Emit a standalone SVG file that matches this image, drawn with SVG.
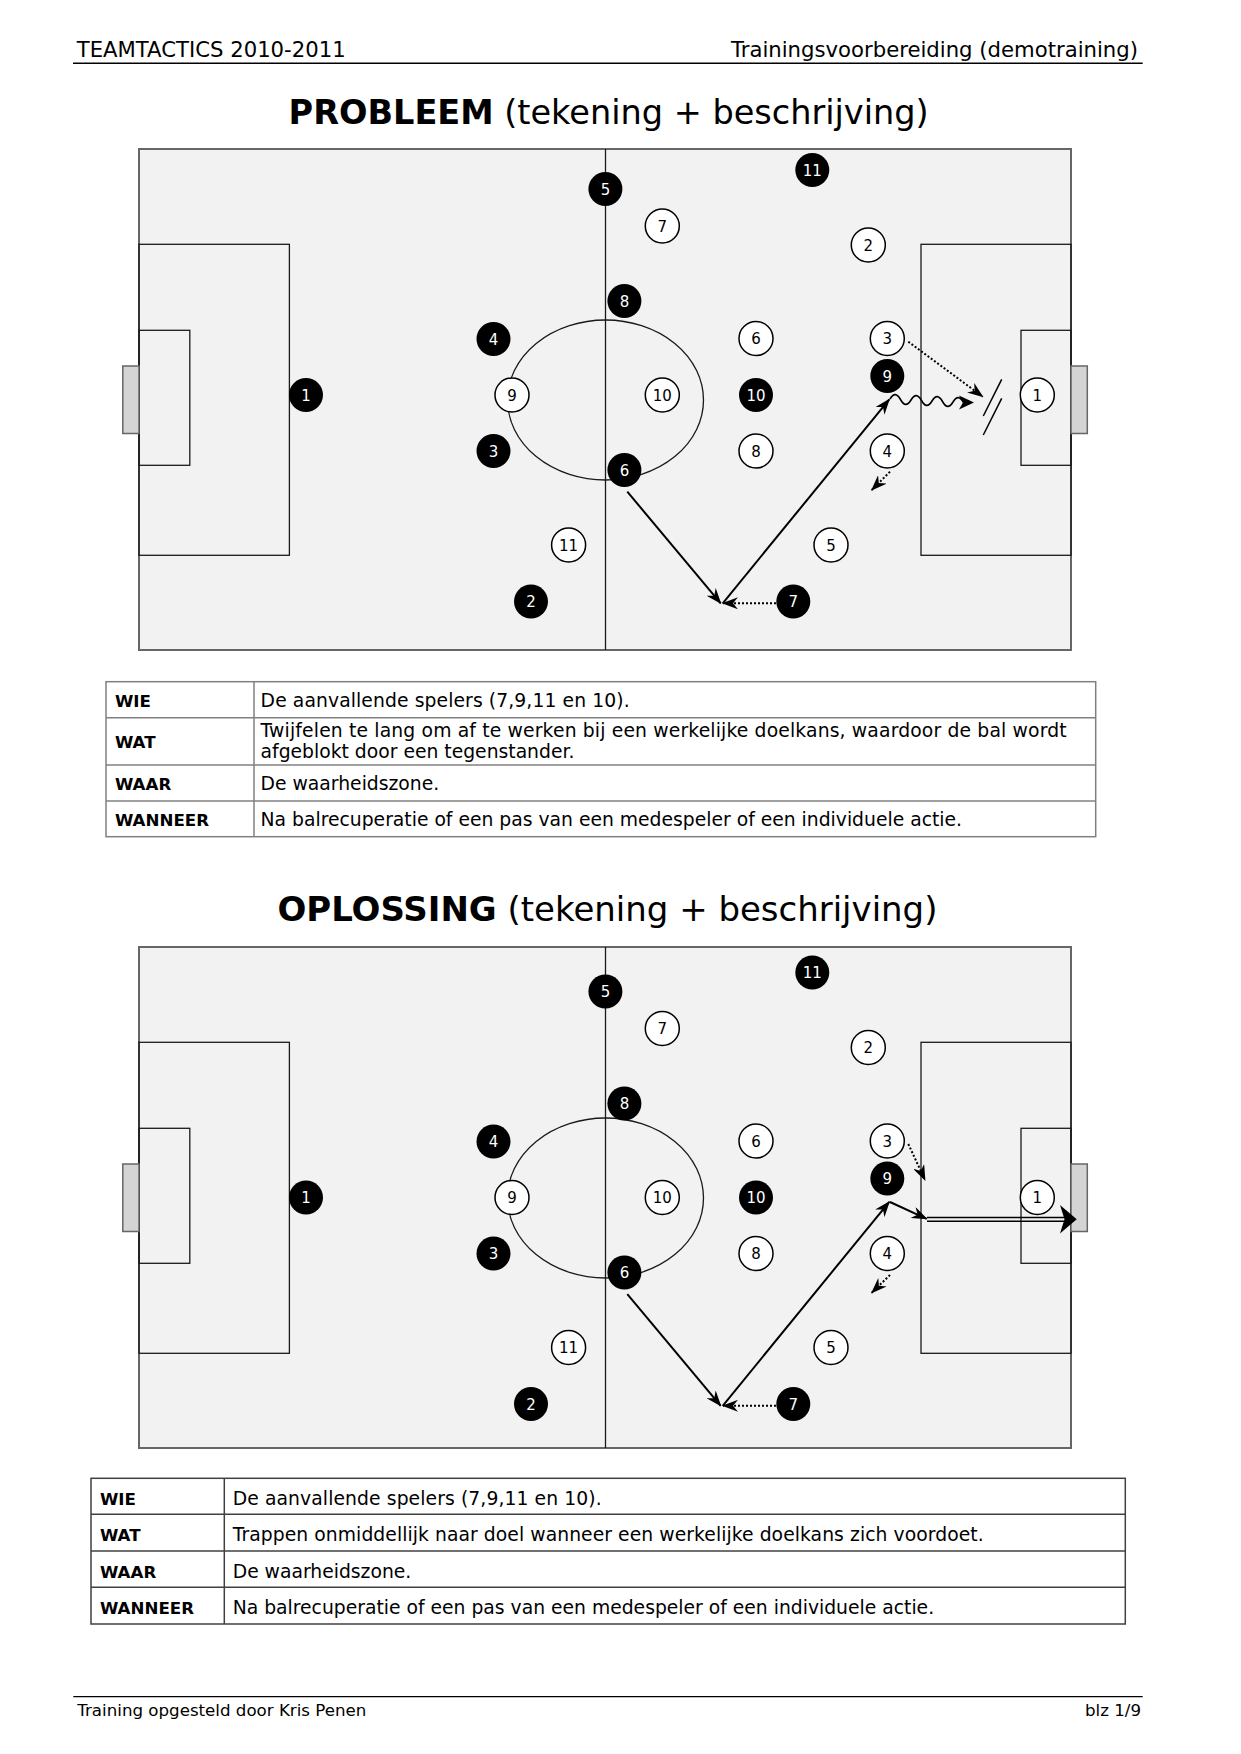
<svg xmlns="http://www.w3.org/2000/svg" width="1241" height="1754" viewBox="0 0 1241 1754">
<style>
text{font-family:"DejaVu Sans",Verdana,sans-serif}
.hdr{font-size:21.2px;fill:#000}
.ttl{font-size:33.5px;fill:#000}
.ttl .b{font-weight:bold}
.cell{font-size:18.75px;fill:#000}
.lab{font-size:16.67px;font-weight:bold;fill:#000}
.ftr{font-size:16.67px;fill:#000}
.pitch{fill:#f2f2f2;stroke:#666;stroke-width:2}
.ln{fill:none;stroke:#1a1a1a;stroke-width:1.3}
.goal{fill:#d4d4d4;stroke:#666;stroke-width:1.5}
.pa circle{fill:#000}
.pa text{fill:#fff}
.pb circle{fill:#fff;stroke:#000;stroke-width:1.5}
.pb text{fill:#000}
.num{font-size:15px;text-anchor:middle}
.pass{fill:none;stroke:#000;stroke-width:2;marker-end:url(#ah)}
.run{fill:none;stroke:#000;stroke-width:2;stroke-dasharray:2 2;marker-end:url(#ah)}
.tb1{fill:#fff;stroke:#808080;stroke-width:1.5}
.tb1l{stroke:#808080;stroke-width:1.5}
.tb2{fill:#fff;stroke:#404040;stroke-width:1.5}
.tb2l{stroke:#404040;stroke-width:1.5}
</style>
<defs>
<marker id="ah" viewBox="0 0 16 12" markerWidth="16" markerHeight="12" refX="15" refY="6" orient="auto" markerUnits="userSpaceOnUse">
<path d="M16,6 L0,0 L5,6 L0,12 Z" fill="#000"/>
</marker>
<g id="field">
<rect class="pitch" x="139" y="149" width="932" height="501"/>
<line class="ln" x1="605.5" y1="149" x2="605.5" y2="650"/>
<ellipse class="ln" cx="605.5" cy="400" rx="98" ry="80"/>
<rect class="ln" x="139" y="244.3" width="150.4" height="311"/>
<rect class="ln" x="139" y="330.3" width="50.8" height="135"/>
<rect class="goal" x="122.8" y="366" width="16.2" height="67.5"/>
<rect class="ln" x="921" y="244.3" width="150" height="311"/>
<rect class="ln" x="1021" y="330.3" width="50" height="135"/>
<rect class="goal" x="1071" y="366" width="16.3" height="67.5"/>
</g>
</defs>

<g id="header">
<text class="hdr" x="76.7" y="56.7">TEAMTACTICS 2010-2011</text>
<text class="hdr" x="1138" y="56.7" text-anchor="end">Trainingsvoorbereiding (demotraining)</text>
<line x1="73" y1="63.3" x2="1142.7" y2="63.3" stroke="#000" stroke-width="1.6"/>
</g>

<text class="ttl" x="288.6" y="124" textLength="640" lengthAdjust="spacingAndGlyphs"><tspan class="b">PROBLEEM</tspan> (tekening + beschrijving)</text>

<g id="pitch1">
<use href="#field"/>
</g>

<g id="connectors1">
<line class="pass" x1="627.3" y1="491.7" x2="720.7" y2="603.3"/>
<line class="run" x1="776" y1="603.3" x2="723" y2="603.3"/>
<line class="pass" x1="722.7" y1="603.3" x2="889.3" y2="399.3"/>
<path fill="none" stroke="#000" stroke-width="1.6" d="M890,399 q5.25,-9 10.5,0.5 t10.5,0.5 t10.5,0.5 t10.5,0.5 t10.5,0.5 t10.5,0.5 t10.5,0.5 l6,-1"/>
<path d="M974,402.5 L959,395.5 L963,402.5 L959,409.5 Z" fill="#000"/>
<line class="run" x1="908.3" y1="341.7" x2="982.7" y2="396.7"/>
<line x1="1001.7" y1="379.3" x2="983.3" y2="416" stroke="#000" stroke-width="1.5"/>
<line x1="1001.7" y1="398.3" x2="983.3" y2="435" stroke="#000" stroke-width="1.5"/>
<line class="run" x1="890" y1="471.7" x2="871.7" y2="490"/>
</g>

<g id="players1">
<g id="p1-a5" class="pa"><circle cx="605.4" cy="189" r="17"/><text class="num" x="605.4" y="194.5">5</text></g>
<g id="p1-a8" class="pa"><circle cx="624.4" cy="301" r="17"/><text class="num" x="624.4" y="306.5">8</text></g>
<g id="p1-a4" class="pa"><circle cx="493.5" cy="339" r="17"/><text class="num" x="493.5" y="344.5">4</text></g>
<g id="p1-a1" class="pa"><circle cx="306" cy="395" r="17"/><text class="num" x="306" y="400.5">1</text></g>
<g id="p1-a3" class="pa"><circle cx="493.5" cy="451" r="17"/><text class="num" x="493.5" y="456.5">3</text></g>
<g id="p1-a6" class="pa"><circle cx="624.4" cy="470" r="17"/><text class="num" x="624.4" y="475.5">6</text></g>
<g id="p1-a2" class="pa"><circle cx="531" cy="601.5" r="17"/><text class="num" x="531" y="607">2</text></g>
<g id="p1-a11" class="pa"><circle cx="812.3" cy="170" r="17"/><text class="num" x="812.3" y="175.5">11</text></g>
<g id="p1-a10" class="pa"><circle cx="756" cy="395" r="17"/><text class="num" x="756" y="400.5">10</text></g>
<g id="p1-a9" class="pa"><circle cx="887.3" cy="376" r="17"/><text class="num" x="887.3" y="381.5">9</text></g>
<g id="p1-a7" class="pa"><circle cx="793.3" cy="601.5" r="17"/><text class="num" x="793.3" y="607">7</text></g>
<g id="p1-b9" class="pb"><circle cx="512" cy="395" r="17"/><text class="num" x="512" y="400.5">9</text></g>
<g id="p1-b11" class="pb"><circle cx="568.6" cy="545" r="17"/><text class="num" x="568.6" y="550.5">11</text></g>
<g id="p1-b7" class="pb"><circle cx="662.3" cy="226" r="17"/><text class="num" x="662.3" y="231.5">7</text></g>
<g id="p1-b10" class="pb"><circle cx="662.3" cy="395" r="17"/><text class="num" x="662.3" y="400.5">10</text></g>
<g id="p1-b2" class="pb"><circle cx="868.3" cy="245" r="17"/><text class="num" x="868.3" y="250.5">2</text></g>
<g id="p1-b6" class="pb"><circle cx="756" cy="338.5" r="17"/><text class="num" x="756" y="344">6</text></g>
<g id="p1-b3" class="pb"><circle cx="887.3" cy="338.5" r="17"/><text class="num" x="887.3" y="344">3</text></g>
<g id="p1-b8" class="pb"><circle cx="756" cy="451" r="17"/><text class="num" x="756" y="456.5">8</text></g>
<g id="p1-b4" class="pb"><circle cx="887.3" cy="451" r="17"/><text class="num" x="887.3" y="456.5">4</text></g>
<g id="p1-b5" class="pb"><circle cx="831" cy="545" r="17"/><text class="num" x="831" y="550.5">5</text></g>
<g id="p1-b1" class="pb"><circle cx="1037.3" cy="395" r="17"/><text class="num" x="1037.3" y="400.5">1</text></g>
</g>

<g id="table1">
<rect class="tb1" x="106" y="681.7" width="989.7" height="155"/>
<line class="tb1l" x1="254" y1="681.7" x2="254" y2="836.7"/>
<line class="tb1l" x1="106" y1="717.7" x2="1095.7" y2="717.7"/>
<line class="tb1l" x1="106" y1="765" x2="1095.7" y2="765"/>
<line class="tb1l" x1="106" y1="801" x2="1095.7" y2="801"/>
<text class="lab" x="115" y="707">WIE</text>
<text class="lab" x="115" y="748">WAT</text>
<text class="lab" x="115" y="790">WAAR</text>
<text class="lab" x="115" y="826">WANNEER</text>
<text class="cell" x="260.6" y="707" textLength="369" lengthAdjust="spacing">De aanvallende spelers (7,9,11 en 10).</text>
<text class="cell" x="260.6" y="737" textLength="806" lengthAdjust="spacing">Twijfelen te lang om af te werken bij een werkelijke doelkans, waardoor de bal wordt</text>
<text class="cell" x="260.6" y="757.5">afgeblokt door een tegenstander.</text>
<text class="cell" x="260.6" y="790">De waarheidszone.</text>
<text class="cell" x="260.6" y="826">Na balrecuperatie of een pas van een medespeler of een individuele actie.</text>
</g>

<text class="ttl" x="277.4" y="921" textLength="660" lengthAdjust="spacingAndGlyphs"><tspan class="b">OPLOSSING</tspan> (tekening + beschrijving)</text>

<g id="pitch2">
<use href="#field" y="798"/>
</g>

<g id="connectors2">
<line class="pass" x1="627.3" y1="1294.2" x2="720.7" y2="1405.8"/>
<line class="run" x1="776" y1="1405.8" x2="723" y2="1405.8"/>
<line class="pass" x1="722.7" y1="1405.8" x2="889.3" y2="1201.8"/>
<line class="pass" x1="890" y1="1202" x2="926.7" y2="1218.8"/>
<line x1="927" y1="1217.4" x2="1066" y2="1217.4" stroke="#000" stroke-width="1.5"/>
<line x1="927" y1="1221.2" x2="1066" y2="1221.2" stroke="#000" stroke-width="1.5"/>
<path d="M1076.7,1219.3 L1060,1205 L1064.5,1219.3 L1060,1233.5 Z" fill="#000"/>
<line class="run" x1="908.3" y1="1144" x2="925" y2="1180"/>
<line class="run" x1="890" y1="1275" x2="871.7" y2="1292.7"/>
</g>

<g id="players2">
<g id="p2-a5" class="pa"><circle cx="605.4" cy="991.5" r="17"/><text class="num" x="605.4" y="997">5</text></g>
<g id="p2-a8" class="pa"><circle cx="624.4" cy="1103.5" r="17"/><text class="num" x="624.4" y="1109">8</text></g>
<g id="p2-a4" class="pa"><circle cx="493.5" cy="1141.5" r="17"/><text class="num" x="493.5" y="1147">4</text></g>
<g id="p2-a1" class="pa"><circle cx="306" cy="1197.5" r="17"/><text class="num" x="306" y="1203">1</text></g>
<g id="p2-a3" class="pa"><circle cx="493.5" cy="1253.5" r="17"/><text class="num" x="493.5" y="1259">3</text></g>
<g id="p2-a6" class="pa"><circle cx="624.4" cy="1272.5" r="17"/><text class="num" x="624.4" y="1278">6</text></g>
<g id="p2-a2" class="pa"><circle cx="531" cy="1404" r="17"/><text class="num" x="531" y="1409.5">2</text></g>
<g id="p2-a11" class="pa"><circle cx="812.3" cy="972.5" r="17"/><text class="num" x="812.3" y="978">11</text></g>
<g id="p2-a10" class="pa"><circle cx="756" cy="1197.5" r="17"/><text class="num" x="756" y="1203">10</text></g>
<g id="p2-a9" class="pa"><circle cx="887.3" cy="1178.5" r="17"/><text class="num" x="887.3" y="1184">9</text></g>
<g id="p2-a7" class="pa"><circle cx="793.3" cy="1404" r="17"/><text class="num" x="793.3" y="1409.5">7</text></g>
<g id="p2-b9" class="pb"><circle cx="512" cy="1197.5" r="17"/><text class="num" x="512" y="1203">9</text></g>
<g id="p2-b11" class="pb"><circle cx="568.6" cy="1347.5" r="17"/><text class="num" x="568.6" y="1353">11</text></g>
<g id="p2-b7" class="pb"><circle cx="662.3" cy="1028.5" r="17"/><text class="num" x="662.3" y="1034">7</text></g>
<g id="p2-b10" class="pb"><circle cx="662.3" cy="1197.5" r="17"/><text class="num" x="662.3" y="1203">10</text></g>
<g id="p2-b2" class="pb"><circle cx="868.3" cy="1047.5" r="17"/><text class="num" x="868.3" y="1053">2</text></g>
<g id="p2-b6" class="pb"><circle cx="756" cy="1141" r="17"/><text class="num" x="756" y="1146.5">6</text></g>
<g id="p2-b3" class="pb"><circle cx="887.3" cy="1141" r="17"/><text class="num" x="887.3" y="1146.5">3</text></g>
<g id="p2-b8" class="pb"><circle cx="756" cy="1253.5" r="17"/><text class="num" x="756" y="1259">8</text></g>
<g id="p2-b4" class="pb"><circle cx="887.3" cy="1253.5" r="17"/><text class="num" x="887.3" y="1259">4</text></g>
<g id="p2-b5" class="pb"><circle cx="831" cy="1347.5" r="17"/><text class="num" x="831" y="1353">5</text></g>
<g id="p2-b1" class="pb"><circle cx="1037.3" cy="1197.5" r="17"/><text class="num" x="1037.3" y="1203">1</text></g>
</g>

<g id="table2">
<rect class="tb2" x="91" y="1478.3" width="1034.3" height="145.7"/>
<line class="tb2l" x1="224.3" y1="1478.3" x2="224.3" y2="1624"/>
<line class="tb2l" x1="91" y1="1514.3" x2="1125.3" y2="1514.3"/>
<line class="tb2l" x1="91" y1="1551" x2="1125.3" y2="1551"/>
<line class="tb2l" x1="91" y1="1587.3" x2="1125.3" y2="1587.3"/>
<text class="lab" x="100" y="1504.5">WIE</text>
<text class="lab" x="100" y="1541">WAT</text>
<text class="lab" x="100" y="1577.5">WAAR</text>
<text class="lab" x="100" y="1614">WANNEER</text>
<text class="cell" x="232.7" y="1504.5" textLength="369" lengthAdjust="spacing">De aanvallende spelers (7,9,11 en 10).</text>
<text class="cell" x="232.7" y="1541" textLength="751" lengthAdjust="spacing">Trappen onmiddellijk naar doel wanneer een werkelijke doelkans zich voordoet.</text>
<text class="cell" x="232.7" y="1577.5">De waarheidszone.</text>
<text class="cell" x="232.7" y="1614">Na balrecuperatie of een pas van een medespeler of een individuele actie.</text>
</g>

<g id="footer">
<line x1="73.3" y1="1696.7" x2="1142.7" y2="1696.7" stroke="#000" stroke-width="1.3"/>
<text class="ftr" x="77.3" y="1716">Training opgesteld door Kris Penen</text>
<text class="ftr" x="1141" y="1716" text-anchor="end">blz 1/9</text>
</g>
</svg>
